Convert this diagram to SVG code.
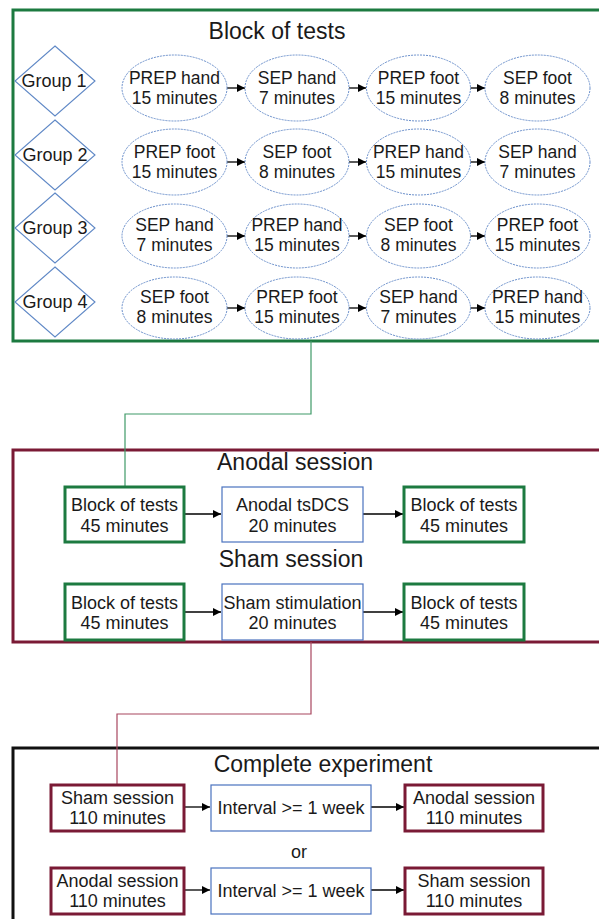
<svg xmlns="http://www.w3.org/2000/svg" width="599" height="919" viewBox="0 0 599 919">
  <defs>
    <marker id="arrow" viewBox="0 0 10 10" refX="10" refY="5" markerWidth="10" markerHeight="8" markerUnits="userSpaceOnUse" orient="auto">
      <path d="M0,0 L10,5 L0,10 Z" fill="#000"/>
    </marker>
    <style>
      text { font-family: "Liberation Sans", Arial, sans-serif; fill: #1a1a1a; text-anchor: middle; }
      .title { font-size: 23px; }
      .lbl { font-size: 18px; }
      .elbl { font-size: 17.5px; }
      .frame-green { fill: none; stroke: #1c7a40; stroke-width: 3; }
      .frame-maroon { fill: none; stroke: #7a1a35; stroke-width: 3; }
      .frame-black { fill: none; stroke: #111; stroke-width: 3; }
      .box-green { fill: #fff; stroke: #1c7a40; stroke-width: 3; }
      .box-maroon { fill: #fff; stroke: #7a1a35; stroke-width: 3; }
      .box-blue { fill: #fff; stroke: #4a72bf; stroke-width: 1.2; }
      .ell { fill: #fff; stroke: #6a8fcb; stroke-width: 1; stroke-dasharray: 2 1; }
      .dia { fill: #fff; stroke: #5f88c6; stroke-width: 1.1; }
      .arr { stroke: #000; stroke-width: 1.3; fill: none; marker-end: url(#arrow); }
      .link-green { stroke: #3f9a68; stroke-width: 1.2; fill: none; }
      .link-maroon { stroke: #a8475f; stroke-width: 1.2; fill: none; }
    </style>
  </defs>

  <rect width="599" height="919" fill="#fff"/>

  <!-- Frames -->
  <g id="frame-block-of-tests">
    <rect class="frame-green" x="13" y="10" width="600" height="331"/>
    <text class="title" x="277" y="39">Block of tests</text>
  </g>
  <g id="frame-sessions">
    <rect class="frame-maroon" x="13" y="450" width="600" height="192"/>
    <text class="title" x="295" y="470">Anodal session</text>
    <text class="title" x="291" y="567">Sham session</text>
  </g>
  <g id="frame-experiment">
    <rect class="frame-black" x="13" y="748" width="600" height="180"/>
    <text class="title" x="323" y="772">Complete experiment</text>
    <text class="lbl" x="299" y="858">or</text>
  </g>

  <!-- Connectors -->
  <g id="connectors">
    <polyline class="link-green" points="311,341 311,414 125,414 125,486"/>
    <polyline class="link-maroon" points="311,642 311,714 117,714 117,784"/>

    <line class="arr" x1="227" y1="88" x2="245" y2="88"/>
    <line class="arr" x1="349" y1="88" x2="366" y2="88"/>
    <line class="arr" x1="470" y1="88" x2="485" y2="88"/>
    <line class="arr" x1="227" y1="162" x2="245" y2="162"/>
    <line class="arr" x1="349" y1="162" x2="366" y2="162"/>
    <line class="arr" x1="470" y1="162" x2="485" y2="162"/>
    <line class="arr" x1="227" y1="236" x2="245" y2="236"/>
    <line class="arr" x1="349" y1="236" x2="366" y2="236"/>
    <line class="arr" x1="470" y1="236" x2="485" y2="236"/>
    <line class="arr" x1="227" y1="308" x2="245" y2="308"/>
    <line class="arr" x1="349" y1="308" x2="366" y2="308"/>
    <line class="arr" x1="470" y1="308" x2="485" y2="308"/>

    <line class="arr" x1="185" y1="514" x2="221" y2="514"/>
    <line class="arr" x1="363" y1="514" x2="403" y2="514"/>
    <line class="arr" x1="185" y1="612" x2="221" y2="612"/>
    <line class="arr" x1="363" y1="612" x2="403" y2="612"/>

    <line class="arr" x1="185" y1="807" x2="210" y2="807"/>
    <line class="arr" x1="371" y1="807" x2="404" y2="807"/>
    <line class="arr" x1="185" y1="890" x2="210" y2="890"/>
    <line class="arr" x1="371" y1="890" x2="404" y2="890"/>
  </g>

  <!-- Groups -->
  <g id="group1">
    <polygon class="dia" points="55,46 95,81 55,116 15,81"/>
    <text class="lbl" x="54" y="87">Group 1</text>
  </g>
  <g id="group2">
    <polygon class="dia" points="55,120 95,155 55,190 15,155"/>
    <text class="lbl" x="55" y="161">Group 2</text>
  </g>
  <g id="group3">
    <polygon class="dia" points="55,193 95,228 55,263 15,228"/>
    <text class="lbl" x="55" y="234">Group 3</text>
  </g>
  <g id="group4">
    <polygon class="dia" points="55,267 95,302 55,337 15,302"/>
    <text class="lbl" x="55" y="308">Group 4</text>
  </g>

  <!-- Row 1 -->
  <g id="g1-prep-hand"><ellipse class="ell" cx="174.5" cy="88" rx="52.5" ry="33"/><text class="elbl" x="174.5" y="84">PREP hand</text><text class="elbl" x="174.5" y="104">15 minutes</text></g>
  <g id="g1-sep-hand"><ellipse class="ell" cx="297" cy="88" rx="52" ry="33"/><text class="elbl" x="297" y="84">SEP hand</text><text class="elbl" x="297" y="104">7 minutes</text></g>
  <g id="g1-prep-foot"><ellipse class="ell" cx="418.5" cy="88" rx="52" ry="33"/><text class="elbl" x="418.5" y="84">PREP foot</text><text class="elbl" x="418.5" y="104">15 minutes</text></g>
  <g id="g1-sep-foot"><ellipse class="ell" cx="537.5" cy="88" rx="52.5" ry="33"/><text class="elbl" x="537.5" y="84">SEP foot</text><text class="elbl" x="537.5" y="104">8 minutes</text></g>

  <!-- Row 2 -->
  <g id="g2-prep-foot"><ellipse class="ell" cx="174.5" cy="162" rx="52.5" ry="33"/><text class="elbl" x="174.5" y="158">PREP foot</text><text class="elbl" x="174.5" y="178">15 minutes</text></g>
  <g id="g2-sep-foot"><ellipse class="ell" cx="297" cy="162" rx="52" ry="33"/><text class="elbl" x="297" y="158">SEP foot</text><text class="elbl" x="297" y="178">8 minutes</text></g>
  <g id="g2-prep-hand"><ellipse class="ell" cx="418.5" cy="162" rx="52" ry="33"/><text class="elbl" x="418.5" y="158">PREP hand</text><text class="elbl" x="418.5" y="178">15 minutes</text></g>
  <g id="g2-sep-hand"><ellipse class="ell" cx="537.5" cy="162" rx="52.5" ry="33"/><text class="elbl" x="537.5" y="158">SEP hand</text><text class="elbl" x="537.5" y="178">7 minutes</text></g>

  <!-- Row 3 -->
  <g id="g3-sep-hand"><ellipse class="ell" cx="174.5" cy="236" rx="52.5" ry="32"/><text class="elbl" x="174.5" y="231">SEP hand</text><text class="elbl" x="174.5" y="251">7 minutes</text></g>
  <g id="g3-prep-hand"><ellipse class="ell" cx="297" cy="236" rx="52" ry="32"/><text class="elbl" x="297" y="231">PREP hand</text><text class="elbl" x="297" y="251">15 minutes</text></g>
  <g id="g3-sep-foot"><ellipse class="ell" cx="418.5" cy="236" rx="52" ry="32"/><text class="elbl" x="418.5" y="231">SEP foot</text><text class="elbl" x="418.5" y="251">8 minutes</text></g>
  <g id="g3-prep-foot"><ellipse class="ell" cx="537.5" cy="236" rx="52.5" ry="32"/><text class="elbl" x="537.5" y="231">PREP foot</text><text class="elbl" x="537.5" y="251">15 minutes</text></g>

  <!-- Row 4 -->
  <g id="g4-sep-foot"><ellipse class="ell" cx="174.5" cy="308" rx="52.5" ry="31"/><text class="elbl" x="174.5" y="303">SEP foot</text><text class="elbl" x="174.5" y="323">8 minutes</text></g>
  <g id="g4-prep-foot"><ellipse class="ell" cx="297" cy="308" rx="52" ry="31"/><text class="elbl" x="297" y="303">PREP foot</text><text class="elbl" x="297" y="323">15 minutes</text></g>
  <g id="g4-sep-hand"><ellipse class="ell" cx="418.5" cy="308" rx="52" ry="31"/><text class="elbl" x="418.5" y="303">SEP hand</text><text class="elbl" x="418.5" y="323">7 minutes</text></g>
  <g id="g4-prep-hand"><ellipse class="ell" cx="537.5" cy="308" rx="52.5" ry="31"/><text class="elbl" x="537.5" y="303">PREP hand</text><text class="elbl" x="537.5" y="323">15 minutes</text></g>

  <!-- Anodal session -->
  <g id="anodal-pre"><rect class="box-green" x="65" y="487" width="119" height="55"/><text class="lbl" x="124.5" y="511">Block of tests</text><text class="lbl" x="124.5" y="531.5">45 minutes</text></g>
  <g id="anodal-tsdcs"><rect class="box-blue" x="222" y="487" width="141" height="55"/><text class="lbl" x="292.5" y="511">Anodal tsDCS</text><text class="lbl" x="292.5" y="531.5">20 minutes</text></g>
  <g id="anodal-post"><rect class="box-green" x="404" y="487" width="120" height="55"/><text class="lbl" x="464" y="511">Block of tests</text><text class="lbl" x="464" y="531.5">45 minutes</text></g>

  <!-- Sham session -->
  <g id="sham-pre"><rect class="box-green" x="65" y="584" width="119" height="56"/><text class="lbl" x="124.5" y="608.5">Block of tests</text><text class="lbl" x="124.5" y="629">45 minutes</text></g>
  <g id="sham-stim"><rect class="box-blue" x="222" y="584" width="141" height="56"/><text class="lbl" x="292.5" y="608.5">Sham stimulation</text><text class="lbl" x="292.5" y="629">20 minutes</text></g>
  <g id="sham-post"><rect class="box-green" x="404" y="584" width="120" height="56"/><text class="lbl" x="464" y="608.5">Block of tests</text><text class="lbl" x="464" y="629">45 minutes</text></g>

  <!-- Complete experiment -->
  <g id="exp1-sham"><rect class="box-maroon" x="51" y="785" width="133" height="46"/><text class="lbl" x="117.5" y="803.5">Sham session</text><text class="lbl" x="117.5" y="824">110 minutes</text></g>
  <g id="exp1-interval"><rect class="box-blue" x="211" y="785" width="160" height="46"/><text class="lbl" x="291" y="814">Interval &gt;= 1 week</text></g>
  <g id="exp1-anodal"><rect class="box-maroon" x="405" y="785" width="138" height="46"/><text class="lbl" x="474" y="803.5">Anodal session</text><text class="lbl" x="474" y="824">110 minutes</text></g>

  <g id="exp2-anodal"><rect class="box-maroon" x="51" y="868" width="133" height="46"/><text class="lbl" x="117.5" y="886.5">Anodal session</text><text class="lbl" x="117.5" y="907">110 minutes</text></g>
  <g id="exp2-interval"><rect class="box-blue" x="211" y="868" width="160" height="46"/><text class="lbl" x="291" y="897">Interval &gt;= 1 week</text></g>
  <g id="exp2-sham"><rect class="box-maroon" x="405" y="868" width="138" height="46"/><text class="lbl" x="474" y="886.5">Sham session</text><text class="lbl" x="474" y="907">110 minutes</text></g>
</svg>
